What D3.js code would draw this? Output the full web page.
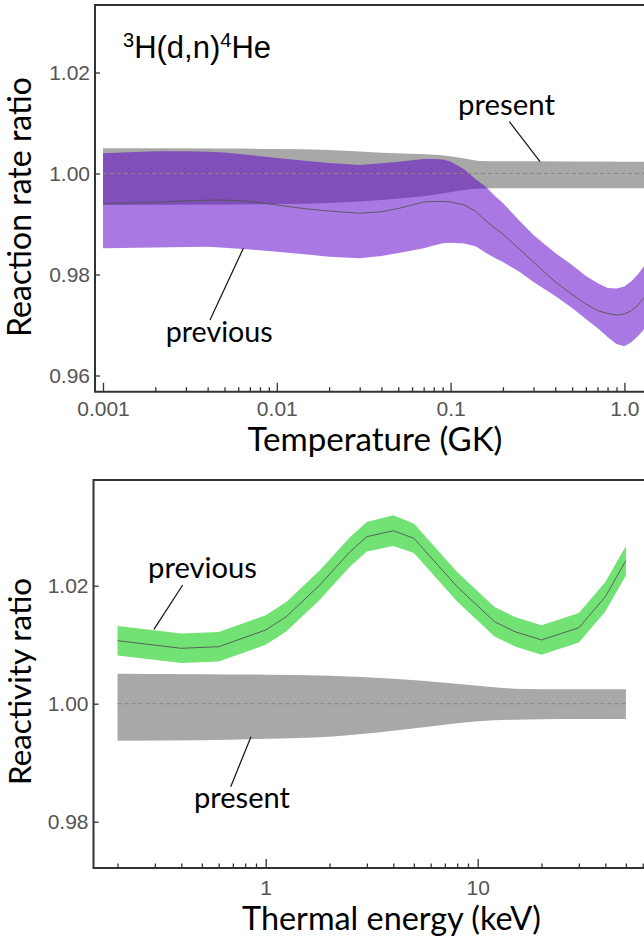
<!DOCTYPE html>
<html>
<head>
<meta charset="utf-8">
<script src="https://cdn.jsdelivr.net/npm/d3@7"></script>
<style>
  body { margin: 0; background: #fff; }
  svg { display: block; }
</style>
</head>
<body>
<script>
// ---- top panel data: reaction rate ratio vs temperature (GK)
const tempGK = [0.001, 0.002, 0.003, 0.004, 0.005, 0.007, 0.01, 0.015, 0.02, 0.03, 0.04, 0.05, 0.06, 0.07, 0.08, 0.09, 0.1,
                0.12, 0.14, 0.16, 0.18, 0.2, 0.25, 0.3, 0.4, 0.5, 0.6, 0.7, 0.8, 0.9, 1.0, 1.1, 1.2, 1.3];
const prevRateMid = [0.99410, 0.99426, 0.99459, 0.99471, 0.99475, 0.99446, 0.99376, 0.99297, 0.99257, 0.99212, 0.99244, 0.99307,
                     0.99376, 0.99436, 0.99446, 0.99446, 0.99436, 0.99376, 0.99248, 0.99059, 0.98921, 0.98802, 0.98495, 0.98248,
                     0.97851, 0.97604, 0.97416, 0.97287, 0.97228, 0.97198, 0.97218, 0.97287, 0.97396, 0.97545];
const prevRateHi = [1.00400, 1.00440, 1.00442, 1.00432, 1.00416, 1.00366, 1.00307, 1.00248, 1.00208, 1.00168, 1.00202, 1.00232,
                    1.00261, 1.00287, 1.00287, 1.00277, 1.00238, 1.00079, 0.99881, 0.99733, 0.99554, 0.99416, 0.99059, 0.98782,
                    0.98426, 0.98188, 0.97970, 0.97832, 0.97733, 0.97723, 0.97762, 0.97871, 0.98010, 0.98168];
const prevRateLo = [0.98519, 0.98535, 0.98545, 0.98550, 0.98531, 0.98495, 0.98451, 0.98396, 0.98352, 0.98321, 0.98366, 0.98426,
                    0.98475, 0.98519, 0.98574, 0.98620, 0.98630, 0.98614, 0.98554, 0.98426, 0.98327, 0.98248, 0.98050, 0.97851,
                    0.97574, 0.97337, 0.97119, 0.96941, 0.96762, 0.96624, 0.96578, 0.96663, 0.96782, 0.96921];

const presTempGK = [0.001, 0.005, 0.01, 0.02, 0.04, 0.086, 0.12, 0.15, 0.2, 0.5, 1.0, 1.3];
const presRateHi = [1.00499, 1.00495, 1.00485, 1.00465, 1.00412, 1.00366, 1.00297, 1.00248, 1.00242, 1.00238, 1.00234, 1.00234];
const presRateLo = [0.99376, 0.99386, 0.99396, 0.99416, 0.99475, 0.99594, 0.99673, 0.99703, 0.99707, 0.99707, 0.99707, 0.99707];

// ---- bottom panel data: reactivity ratio vs thermal energy (keV)
const energyKeV = [0.2, 0.4, 0.6, 1.0, 1.25, 1.8, 2.5, 3, 4, 5, 8, 12, 15, 20, 30, 40, 50];
const prevReacMid = [1.01068, 1.00939, 1.00966, 1.01249, 1.01475, 1.02012, 1.02576, 1.02831, 1.02932, 1.02803, 1.01983,
                     1.01390, 1.01220, 1.01080, 1.01288, 1.01814, 1.02424];
const prevReacHi = [1.01318, 1.01189, 1.01216, 1.01499, 1.01725, 1.02262, 1.02826, 1.03081, 1.03192, 1.03053, 1.02233,
                    1.01640, 1.01470, 1.01330, 1.01538, 1.02064, 1.02674];
const prevReacLo = [1.00818, 1.00689, 1.00716, 1.00999, 1.01225, 1.01762, 1.02326, 1.02581, 1.02672, 1.02553, 1.01733,
                    1.01140, 1.00970, 1.00830, 1.01038, 1.01564, 1.02174];

const presEnergyKeV = [0.2, 0.5, 1, 2, 4, 7, 10, 15, 20, 30, 50];
const presReacHi = [1.00508, 1.00500, 1.00492, 1.00475, 1.00424, 1.00356, 1.00305, 1.00254, 1.00246, 1.00246, 1.00246];
const presReacLo = [0.99373, 0.99381, 0.99407, 0.99441, 0.99542, 0.99644, 0.99703, 0.99729, 0.99737, 0.99740, 0.99741];

// ---- ticks
const topMajorTicks = [0.001, 0.01, 0.1, 1];
const topTickLabels = ["0.001", "0.01", "0.1", "1.0"];
const topYTicks = [0.96, 0.98, 1.00, 1.02];
const botMajorTicks = [1, 10];
const botTickLabels = ["1", "10"];
const botYTicks = [0.98, 1.00, 1.02];

// minor log ticks 2..9 per decade
function minorTicks(fromExp, toExp) {
  const t = [];
  for (let e = fromExp; e <= toExp; e++)
    for (let m = 2; m <= 9; m++) t.push(+(m * Math.pow(10, e)).toPrecision(3));
  return t;
}

const W = 644, H = 943;
const svg = d3.select("body").append("svg").attr("width", W).attr("height", H);

const tickFont = "'Liberation Sans', Arial, sans-serif";
const labelFont = "Lato, 'Open Sans', sans-serif";

// fit a text element to a target length by scaling font size
function fit(sel, target) {
  const w = sel.node().getComputedTextLength();
  sel.attr("font-size", parseFloat(sel.attr("font-size")) * target / w);
  return sel;
}

function zip(xs, a, b) { return xs.map((x, i) => ({x: x, a: a[i], b: b ? b[i] : null})); }

function drawPanel(cfg) {
  const g = svg.append("g");
  const x = cfg.x, y = cfg.y;

  const band = d3.area().x(d => x(d.x)).y0(d => y(d.a)).y1(d => y(d.b));

  // present band (gray)
  g.append("path")
    .datum(zip(cfg.presX, cfg.presLo, cfg.presHi))
    .attr("fill", "#a8a8a8")
    .attr("d", band.curve(d3.curveMonotoneX));

  // previous band
  g.append("path")
    .datum(zip(cfg.prevX, cfg.prevLo, cfg.prevHi))
    .attr("fill", cfg.prevFill)
    .attr("fill-opacity", cfg.prevOpacity)
    .attr("d", band.curve(d3.curveLinear));

  // reference line at 1.00
  g.append("line")
    .attr("x1", x(cfg.dashFrom)).attr("x2", x(cfg.dashTo))
    .attr("y1", y(1)).attr("y2", y(1))
    .attr("stroke", "#858585").attr("stroke-width", 1).attr("stroke-dasharray", "4,3");

  // previous central value
  g.append("path")
    .datum(zip(cfg.prevX, cfg.prevMid))
    .attr("fill", "none").attr("stroke", "#555").attr("stroke-width", 0.9)
    .attr("d", d3.line().x(d => x(d.x)).y(d => y(d.a)));

  // frame
  const f = cfg.frame;
  g.append("path")
    .attr("d", `M${W + 5},${f.top}H${f.left}V${f.bottom}H${W + 5}`)
    .attr("fill", "none").attr("stroke", "#333").attr("stroke-width", 2);

  // x axis: minor and major ticks pointing inward
  const xMinor = g.append("g").attr("transform", `translate(0,${f.bottom})`)
    .call(d3.axisBottom(x).tickValues(cfg.minor).tickSize(-4.5).tickFormat(""));
  const xMajor = g.append("g").attr("transform", `translate(0,${f.bottom})`)
    .call(d3.axisBottom(x).tickValues(cfg.major).tickSize(-9).tickPadding(cfg.xPad)
      .tickFormat((d, i) => cfg.majorLabels[i]));
  const yAx = g.append("g").attr("transform", `translate(${f.left},0)`)
    .call(d3.axisLeft(y).tickValues(cfg.yTicks).tickSize(-5).tickPadding(5).tickFormat(d3.format(".2f")));

  [xMinor, xMajor, yAx].forEach(a => {
    a.select(".domain").remove();
    a.selectAll(".tick line").attr("stroke", "#333").attr("stroke-width", 1.3);
    a.selectAll(".tick text").attr("fill", "#555").attr("font-family", tickFont).attr("font-size", 21);
  });

  // axis titles
  fit(g.append("text")
    .attr("x", cfg.xTitle.cx).attr("y", cfg.xTitle.base)
    .attr("text-anchor", "middle").attr("font-family", labelFont).attr("font-size", 32)
    .text(cfg.xTitle.text), cfg.xTitle.width);
  fit(g.append("text")
    .attr("transform", `translate(${cfg.yTitle.base},${cfg.yTitle.cy}) rotate(-90)`)
    .attr("text-anchor", "middle").attr("font-family", labelFont).attr("font-size", 32)
    .text(cfg.yTitle.text), cfg.yTitle.width);

  // annotations with leader lines (in data coordinates)
  cfg.notes.forEach(n => {
    fit(g.append("text")
      .attr("x", x(n.tx)).attr("y", y(n.ty))
      .attr("font-family", labelFont).attr("font-size", 30)
      .text(n.text), n.width);
    g.append("line")
      .attr("x1", x(n.l[0])).attr("y1", y(n.l[1]))
      .attr("x2", x(n.l[2])).attr("y2", y(n.l[3]))
      .attr("stroke", "#111").attr("stroke-width", 1.2);
  });
  return g;
}

// ---------- top panel
const xTop = d3.scaleLog().domain([0.001, 1]).range([103, 624.4]);
const yTop = d3.scaleLinear().domain([0.96, 1.02]).range([375.5, 72.5]);

const topPanel = drawPanel({
  x: xTop, y: yTop,
  presX: presTempGK, presLo: presRateLo, presHi: presRateHi,
  prevX: tempGK, prevLo: prevRateLo, prevHi: prevRateHi, prevMid: prevRateMid,
  prevFill: "rgb(93,0,200)", prevOpacity: 0.53,
  dashFrom: 0.001, dashTo: 3,
  frame: {left: 95, top: 5, bottom: 391.7},
  minor: minorTicks(-3, 0), major: topMajorTicks, majorLabels: topTickLabels, xPad: 9,
  yTicks: topYTicks,
  xTitle: {text: "Temperature (GK)", cx: 375, base: 451, width: 255},
  yTitle: {text: "Reaction rate ratio", cy: 207, base: 31, width: 260},
  notes: [
    {text: "present", tx: 0.1103, ty: 1.01158, width: 97, l: [0.2177, 1.01026, 0.327, 1.00234]},
    {text: "previous", tx: 0.002295, ty: 0.96669, width: 107, l: [0.004127, 0.9710, 0.00642, 0.98519]}
  ]
});

// reaction label 3H(d,n)4He
const title = topPanel.append("text")
  .attr("x", 123).attr("y", 58)
  .attr("font-family", tickFont).attr("font-size", 31).attr("fill", "#000");
title.append("tspan").attr("font-size", 20).attr("dy", -11).text("3");
title.append("tspan").attr("dy", 11).text("H(d,n)");
title.append("tspan").attr("font-size", 20).attr("dy", -11).text("4");
title.append("tspan").attr("dy", 11).text("He");

// ---------- bottom panel
const xBot = d3.scaleLog().domain([1, 10]).range([265.7, 477.7]);
const yBot = d3.scaleLinear().domain([0.98, 1.02]).range([821.7, 585.7]);

drawPanel({
  x: xBot, y: yBot,
  presX: presEnergyKeV, presLo: presReacLo, presHi: presReacHi,
  prevX: energyKeV, prevLo: prevReacLo, prevHi: prevReacHi, prevMid: prevReacMid,
  prevFill: "#72e275", prevOpacity: 1,
  dashFrom: 0.2, dashTo: 50,
  frame: {left: 93.5, top: 480, bottom: 868},
  minor: minorTicks(-1, 1), major: botMajorTicks, majorLabels: botTickLabels, xPad: 12,
  yTicks: botYTicks,
  xTitle: {text: "Thermal energy (keV)", cx: 391.5, base: 930, width: 299},
  yTitle: {text: "Reactivity ratio", cy: 681.5, base: 31, width: 207},
  notes: [
    {text: "previous", tx: 0.2786, ty: 1.02131, width: 109, l: [0.406, 1.02012, 0.297, 1.01261]},
    {text: "present", tx: 0.459, ty: 0.98237, width: 96, l: [0.684, 0.98593, 0.8523, 0.99441]}
  ]
});
</script>
</body>
</html>
